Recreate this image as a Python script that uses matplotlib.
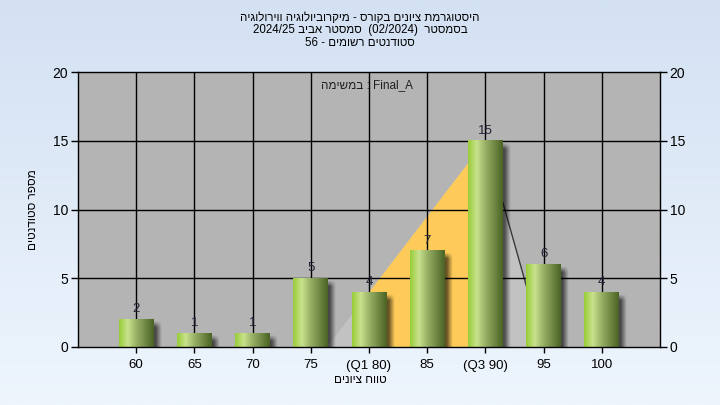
import numpy as np
import matplotlib
matplotlib.use("Agg")
import matplotlib.pyplot as plt
from matplotlib.colors import LinearSegmentedColormap
from matplotlib.patches import Polygon

# fonts with hebrew glyphs
plt.rcParams['font.family'] = ['Liberation Sans', 'DejaVu Sans']


def heb(s):
    # matplotlib has no bidi, so hebrew has to be given in visual order
    return s[::-1]


# data
grades = [60, 65, 70, 75, 80, 85, 90, 95, 100]
tick_labels = ['60', '65', '70', '75', '(Q1 80)', '85', '(Q3 90)', '95', '100']
counts = [2, 1, 1, 5, 4, 7, 15, 6, 4]
q1, q3 = 80, 90
tri_grades = [76.4, 90, 95]   # background distribution shape
tri_counts = [0, 15, 0]

title_1 = heb("היסטוגרמת ציונים בקורס - מיקרוביולוגיה ווירולוגיה")
title_2 = "2024/25 " + heb("סמסטר אביב") + "  (02/2024)  " + heb("בסמסטר")
title_3 = "56 - " + heb("סטודנטים רשומים")
task_text = heb("במשימה") + " : Final_A"
xlabel = heb("טווח ציונים")
ylabel = heb("מספר סטודנטים")


def gx(g):
    return (np.asarray(g, dtype=float) - grades[0]) / 5.0


fig = plt.figure(figsize=(7.2, 4.05), dpi=100)

# figure background gradient
bg = fig.add_axes([0, 0, 1, 1], zorder=-10)
bg_cmap = LinearSegmentedColormap.from_list("bg", ["#d3e1f3", "#eef5fd"])
bg.imshow(np.linspace(0, 1, 256).reshape(-1, 1), cmap=bg_cmap, aspect='auto',
          extent=[0, 1, 0, 1])
bg.set_axis_off()

ax = fig.add_axes([78 / 720, 1 - 347 / 405, 582 / 720, 275 / 405])
ax.set_facecolor('#b4b4b4')

# background triangle + quartile band
tx = gx(tri_grades)
ax.add_patch(Polygon(np.column_stack([tx, tri_counts]), closed=True,
                     facecolor='#c2c2c2', edgecolor='none', zorder=1))
band_g = [g for g in tri_grades if q1 < g < q3]
band_g = [q1] + band_g + [q3]
band_y = np.interp(band_g, tri_grades, tri_counts)
band = [(gx(q1), 0)] + list(zip(gx(band_g), band_y)) + [(gx(q3), 0)]
ax.add_patch(Polygon(band, closed=True, facecolor='#fecb5a',
                     edgecolor='none', zorder=1.5))
ax.plot(tx[1:], tri_counts[1:], color='#3a3a3a', lw=1, zorder=1.8)

# grid
for y in [5, 10, 15]:
    ax.axhline(y, color='black', lw=1, zorder=2)
for i in range(len(grades)):
    ax.axvline(i, color='black', lw=1, zorder=2)

# bars with a cylinder-like gradient and a soft shadow
bar_cmap = LinearSegmentedColormap.from_list(
    "bar", [(0, '#98cc38'), (0.25, '#c8e28c'), (0.5, '#98b066'), (1, '#4a6324')])
grad = np.linspace(0, 1, 128).reshape(1, -1)
w = 0.6
sx, sy = 5 / 58, 5 / 13.75      # shadow offset, 5px each way
soft_x, soft_y = 6 / 58, 6 / 13.75
for i, c in enumerate(counts):
    # shadow: dark block whose right and top edges fade out
    x0, x1 = i - w / 2 + sx, i + w / 2 + sx + soft_x / 2
    y0, y1 = -sy, c - sy + soft_y / 2
    nx, ny = 80, 120
    xs = np.linspace(x0, x1, nx)
    ys = np.linspace(y1, y0, ny)
    ax_alpha = np.clip((x1 - xs) / soft_x, 0, 1)
    ay_alpha = np.clip((y1 - ys) / soft_y, 0, 1)
    shadow = np.zeros((ny, nx, 4))
    shadow[..., 3] = 0.6 * np.outer(ay_alpha, ax_alpha)
    ax.imshow(shadow, aspect='auto', interpolation='bilinear',
              extent=[x0, x1, y0, y1], zorder=2.5)
    ax.imshow(grad, cmap=bar_cmap, aspect='auto', interpolation='bilinear',
              extent=[i - w / 2, i + w / 2, 0, c], zorder=3)
    ax.annotate(str(c), (i, c), xytext=(0, 3), textcoords='offset points',
                ha='center', va='bottom', fontsize=9.5, color='#222238',
                zorder=4)

ax.set_xlim(-1, len(grades))
ax.set_ylim(0, 20)
ax.set_xticks(range(len(grades)))
ax.set_xticklabels(tick_labels)
ax.set_yticks([0, 5, 10, 15, 20])
ax.tick_params(axis='y', direction='out', length=5, width=1, right=True,
               labelright=True, labelsize=10, colors='black', pad=2)
ax.tick_params(axis='x', direction='out', length=4, width=1,
               labelsize=9.5, pad=5)
for s in ax.spines.values():
    s.set_color('black')
    s.set_linewidth(1)
    s.set_zorder(5)

fig.text(0.5, 1 - 18 / 405, title_1, ha='center', va='center', fontsize=8.3)
fig.text(0.5, 1 - 30.5 / 405, title_2, ha='center', va='center', fontsize=8.3)
fig.text(0.5, 1 - 43 / 405, title_3, ha='center', va='center', fontsize=8.3)
fig.text(367 / 720, 1 - 85 / 405, task_text, ha='center', va='center',
         fontsize=8.5, color='#202020')
fig.text(360 / 720, 1 - 380 / 405, xlabel, ha='center', va='center',
         fontsize=8.5)
fig.text(33 / 720, 1 - 210 / 405, ylabel, ha='center', va='center',
         fontsize=8.5, rotation=90)

fig.savefig('out.png', dpi=100)
